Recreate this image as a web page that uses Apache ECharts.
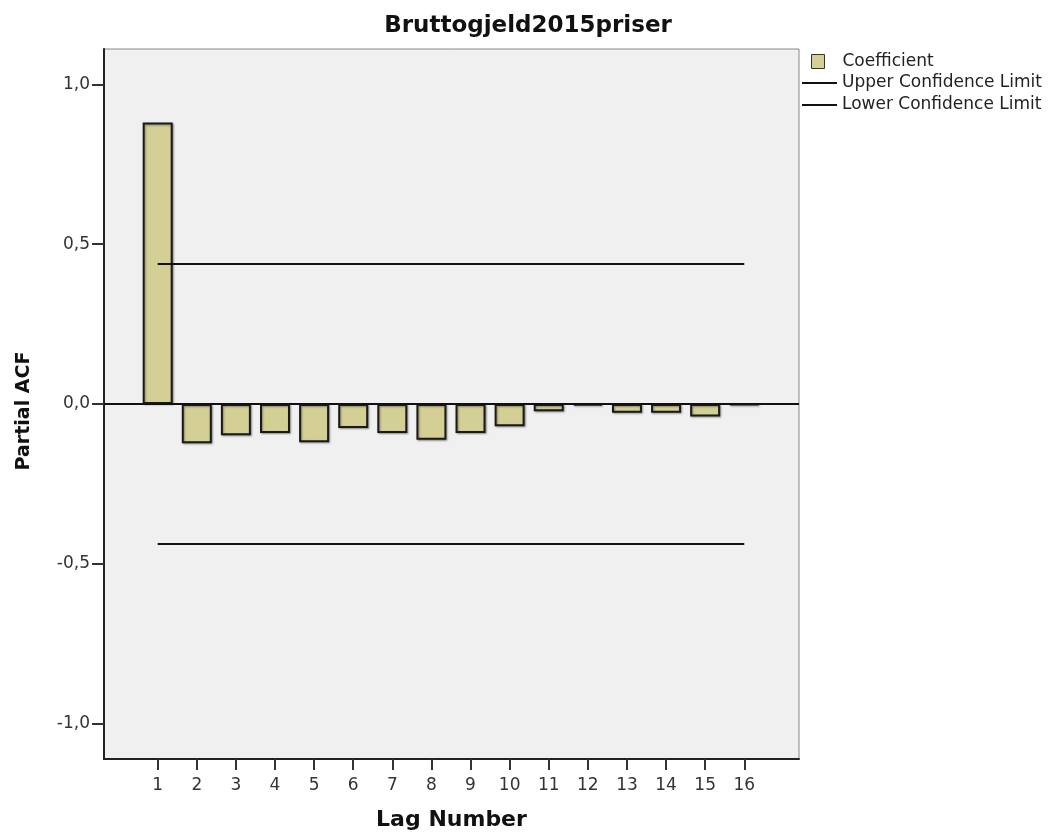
<!DOCTYPE html>
<html>
<head>
<meta charset="utf-8">
<script src="https://cdn.jsdelivr.net/npm/echarts@6/dist/echarts.min.js"></script>
<style>
  html, body { margin: 0; padding: 0; background: #fff; }
  #chart { width: 1056px; height: 836px; }
</style>
</head>
<body>
<div id="chart"></div>
<script>
// partial autocorrelation per lag
let lags = [1, 2, 3, 4, 5, 6, 7, 8, 9, 10, 11, 12, 13, 14, 15, 16];
let coefficients = [0.881, -0.123, -0.098, -0.091, -0.120, -0.075, -0.091, -0.112,
  -0.091, -0.070, -0.023, -0.005, -0.027, -0.027, -0.039, -0.003];
// confidence limits, drawn from lag 1 to lag 16
let limitLags = [1, 16];
let upperLimit = [0.438, 0.438];
let lowerLimit = [-0.438, -0.438];
let yTicks = [-1, -0.5, 0, 0.5, 1];

let font = 'DejaVu Sans';
let barColor = '#d3cf95';

let chart = echarts.init(document.getElementById('chart'));

let option = {
  animation: false,
  title: {
    text: 'Bruttogjeld2015priser',
    left: 'center',
    top: 10,
    textStyle: { fontFamily: font, fontSize: 23, fontWeight: 'bold', color: '#111' }
  },
  legend: [
    {
      data: [{ name: 'Coefficient', icon: 'rect' }],
      left: 806,
      top: 48,
      itemWidth: 13,
      itemHeight: 14,
      itemStyle: { borderColor: '#333', borderWidth: 1 },
      textStyle: { fontFamily: font, fontSize: 17, color: '#222', padding: [0, 0, 0, 13] }
    },
    {
      data: [
        { name: 'Upper Confidence Limit', icon: 'rect' },
        { name: 'Lower Confidence Limit', icon: 'rect' }
      ],
      orient: 'vertical',
      left: 797,
      top: 68,
      itemGap: 2,
      itemWidth: 35,
      itemHeight: 2,
      textStyle: { fontFamily: font, fontSize: 17, color: '#222', lineHeight: 20 }
    }
  ],
  grid: {
    left: 104,
    top: 49,
    right: 257,
    bottom: 75,
    show: true,
    backgroundColor: '#f0f0f0',
    borderColor: '#888',
    borderWidth: 1
  },
  xAxis: {
    type: 'value',
    min: -0.373,
    max: 17.4,
    name: 'Lag Number',
    nameLocation: 'middle',
    nameGap: 50,
    nameTextStyle: { fontFamily: font, fontSize: 22, fontWeight: 'bold', color: '#111' },
    splitLine: { show: false },
    axisLine: { show: true, onZero: false, lineStyle: { color: '#222', width: 2 } },
    axisTick: { show: true, length: 11, customValues: lags, lineStyle: { color: '#333', width: 2 } },
    axisLabel: {
      customValues: lags,
      margin: 18,
      fontFamily: font,
      fontSize: 17,
      color: '#333'
    }
  },
  yAxis: {
    type: 'value',
    min: -1.111,
    max: 1.111,
    name: 'Partial ACF',
    nameLocation: 'middle',
    nameGap: 70,
    nameTextStyle: {
      fontFamily: font, fontSize: 19, fontWeight: 'bold', color: '#111',
      padding: [0, 14, 0, 0]
    },
    splitLine: { show: false },
    axisLine: { show: true, onZero: false, lineStyle: { color: '#222', width: 2 } },
    axisTick: { show: true, length: 12, customValues: yTicks, lineStyle: { color: '#333', width: 2 } },
    axisLabel: {
      customValues: yTicks,
      margin: 14,
      fontFamily: font,
      fontSize: 17,
      color: '#333',
      formatter: v => v.toFixed(1).replace('.', ',')
    }
  },
  series: [
    {
      name: 'Coefficient',
      type: 'bar',
      barWidth: 30,
      data: lags.map((lag, i) => [lag, coefficients[i]]),
      itemStyle: {
        color: barColor,
        borderColor: '#1a1a1a',
        borderWidth: 2,
        shadowColor: 'rgba(0,0,0,0.35)',
        shadowBlur: 2,
        shadowOffsetX: 1,
        shadowOffsetY: 1
      },
      markLine: {
        silent: true,
        symbol: 'none',
        label: { show: false },
        lineStyle: { color: '#111', width: 2, type: 'solid' },
        data: [{ yAxis: 0 }]
      },
      z: 2
    },
    {
      name: 'Upper Confidence Limit',
      type: 'line',
      showSymbol: false,
      symbol: 'none',
      data: limitLags.map((lag, i) => [lag, upperLimit[i]]),
      itemStyle: { color: '#111' },
      lineStyle: { color: '#111', width: 2 },
      z: 3
    },
    {
      name: 'Lower Confidence Limit',
      type: 'line',
      showSymbol: false,
      symbol: 'none',
      data: limitLags.map((lag, i) => [lag, lowerLimit[i]]),
      itemStyle: { color: '#111' },
      lineStyle: { color: '#111', width: 2 },
      z: 3
    }
  ]
};

option && chart.setOption(option);
</script>
</body>
</html>
